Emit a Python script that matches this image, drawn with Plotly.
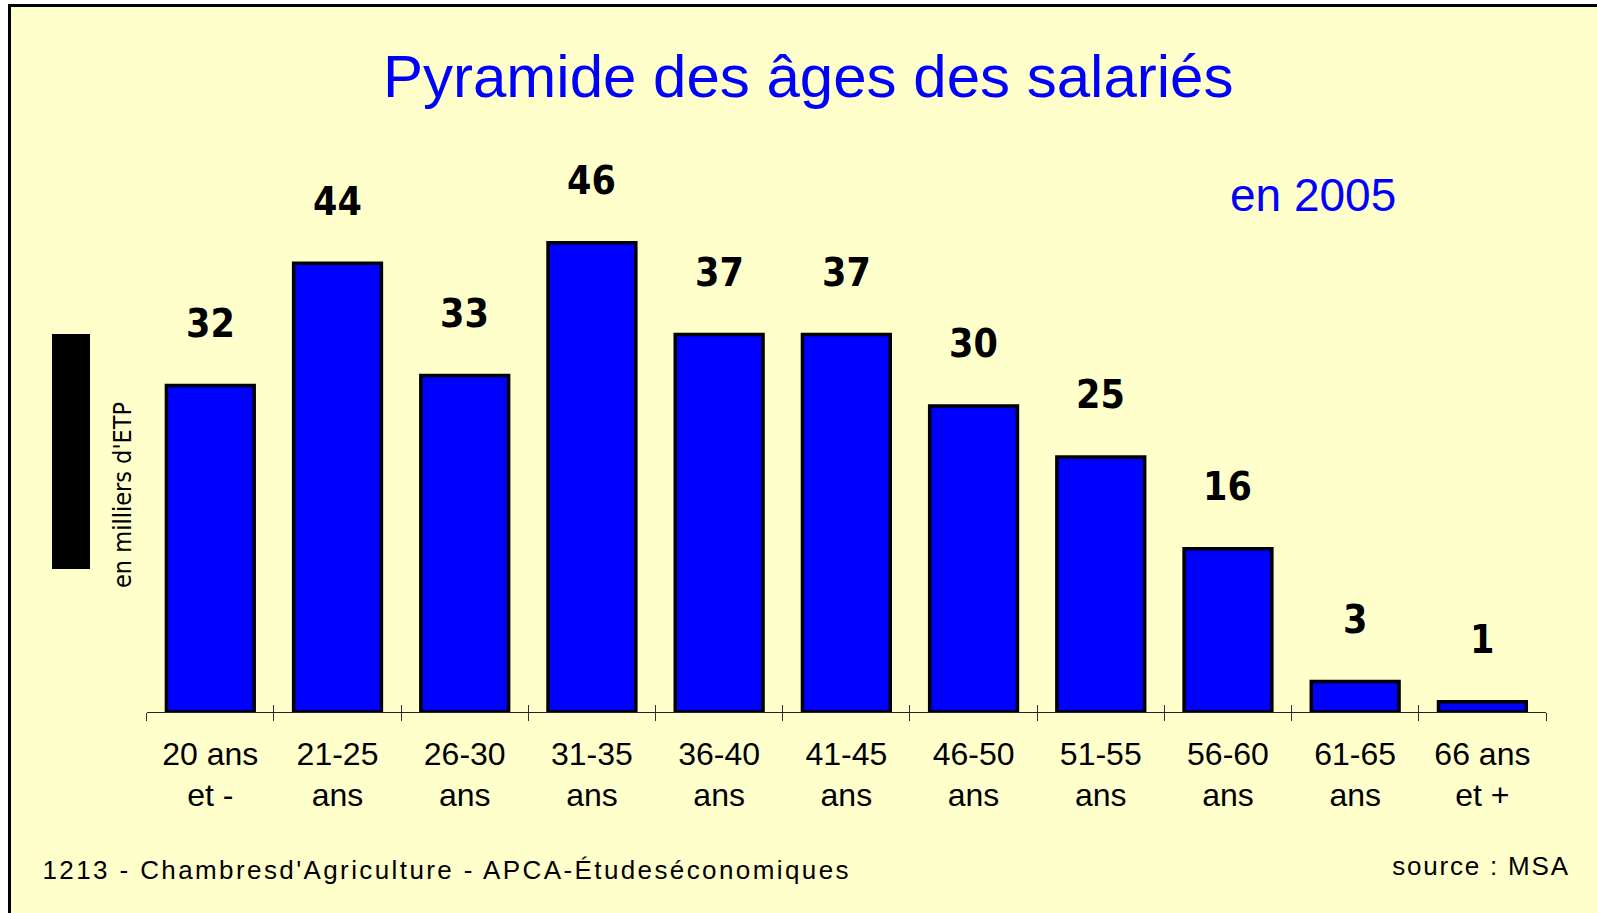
import plotly.graph_objects as go

categories = ["20 ans<br>et -", "21-25<br>ans", "26-30<br>ans", "31-35<br>ans", "36-40<br>ans",
              "41-45<br>ans", "46-50<br>ans", "51-55<br>ans", "56-60<br>ans", "61-65<br>ans", "66 ans<br>et +"]
cat_ids = ["c1", "c2", "c3", "c4", "c5", "c6", "c7", "c8", "c9", "c10", "c11"]
values = [32, 44, 33, 46, 37, 37, 30, 25, 16, 3, 1]

title_text = "Pyramide des âges des salariés"
subtitle_text = "en 2005"
y_title = "en milliers d'ETP"
footer_left = "1213 - Chambresd'Agriculture - APCA-Étudeséconomiques"
footer_right = "source : MSA"

W, H = 1597, 913
BG = "#FFFFCC"
BLUE = "#0000FF"
SANS = "Liberation Sans, Arial, sans-serif"
NARROW = "Liberation Sans Narrow, Arial Narrow, DejaVu Sans Condensed, sans-serif"

def px(x):
    return x / W

def py(y):
    return (H - y) / H

fig = go.Figure()
fig.add_trace(go.Bar(
    x=cat_ids, y=values, width=0.69,
    marker=dict(color=BLUE, line=dict(color="black", width=3.5)),
    hoverinfo="skip", showlegend=False,
))
# invisible trace to carry the overlay axis used for inner tick halves
fig.add_trace(go.Scatter(
    x=cat_ids, y=values, xaxis="x2", mode="markers",
    marker=dict(opacity=0, size=1), hoverinfo="skip", showlegend=False,
))

x_dom = [px(146.7), px(1546)]
y_dom = [py(712), py(712 - 510)]
x_rng = [-0.5, len(cat_ids) - 0.5]

fig.update_layout(
    width=W, height=H, autosize=False,
    margin=dict(l=0, r=0, t=0, b=0),
    paper_bgcolor="white", plot_bgcolor="rgba(0,0,0,0)",
    xaxis=dict(
        domain=x_dom, type="category", categoryorder="array", categoryarray=cat_ids,
        range=x_rng, autorange=False,
        tickmode="array", tickvals=cat_ids, ticktext=categories,
        tickson="boundaries", ticks="outside", ticklen=8, tickwidth=1, tickcolor="#333",
        showline=True, linecolor="#222", linewidth=1.2,
        showgrid=False, zeroline=False, automargin=False,
        tickfont=dict(family=SANS, size=32, color="black"),
        ticklabelstandoff=13,
        fixedrange=True,
    ),
    xaxis2=dict(
        domain=x_dom, overlaying="x", type="category",
        categoryorder="array", categoryarray=cat_ids,
        range=x_rng, autorange=False,
        tickson="boundaries", ticks="inside", ticklen=7, tickwidth=1, tickcolor="#333",
        showticklabels=False, showline=False, showgrid=False, zeroline=False,
        anchor="y", side="bottom", automargin=False,
    ),
    yaxis=dict(
        domain=y_dom, range=[0, 50], visible=False, fixedrange=True,
    ),
    font=dict(family=SANS, color="black"),
)

# frame + background
fig.add_shape(type="rect", xref="paper", yref="paper",
              x0=px(9.5), x1=1.05, y0=-0.05, y1=py(5.5),
              fillcolor=BG, line=dict(color="black", width=3), layer="below")
# black bar at left
fig.add_shape(type="rect", xref="paper", yref="paper",
              x0=px(52), x1=px(90), y0=py(569), y1=py(334),
              fillcolor="black", line=dict(width=0), layer="above")

ann = []
for c, v in zip(cat_ids, values):
    ann.append(dict(x=c, y=v, xref="x", yref="y", text=str(v), showarrow=False,
                    yanchor="middle", yshift=62,
                    font=dict(family=NARROW, size=39, color="black", weight="bold")))

ann.append(dict(x=px(808), y=py(76), xref="paper", yref="paper", text=title_text,
                showarrow=False, xanchor="center", yanchor="middle",
                font=dict(family=SANS, size=60, color=BLUE)))
ann.append(dict(x=px(1313), y=py(195), xref="paper", yref="paper", text=subtitle_text,
                showarrow=False, xanchor="center", yanchor="middle",
                font=dict(family=SANS, size=46, color=BLUE)))
ann.append(dict(x=px(122), y=py(495), xref="paper", yref="paper", text=y_title,
                showarrow=False, xanchor="center", yanchor="middle", textangle=-90,
                font=dict(family=NARROW, size=25, color="black")))
ann.append(dict(x=px(446), y=py(870), xref="paper", yref="paper", text=footer_left,
                showarrow=False, xanchor="center", yanchor="middle",
                font=dict(family=SANS, size=26, color="black")))
ann.append(dict(x=px(1481), y=py(866), xref="paper", yref="paper", text=footer_right,
                showarrow=False, xanchor="center", yanchor="middle",
                font=dict(family=SANS, size=26, color="black")))
fig.update_layout(annotations=ann)

post = """
document.body.style.margin='0';
document.body.style.overflow='hidden';
var gd=document.getElementById('{plot_id}');
gd.querySelectorAll('text.annotation-text').forEach(function(t){
  var s=t.textContent;
  if(s.indexOf('1213')===0){t.style.letterSpacing='2.4px';}
  if(s.indexOf('source')===0){t.style.letterSpacing='1.8px';}
});
"""

fig.write_html("out.html", post_script=post, config={"displayModeBar": False})
